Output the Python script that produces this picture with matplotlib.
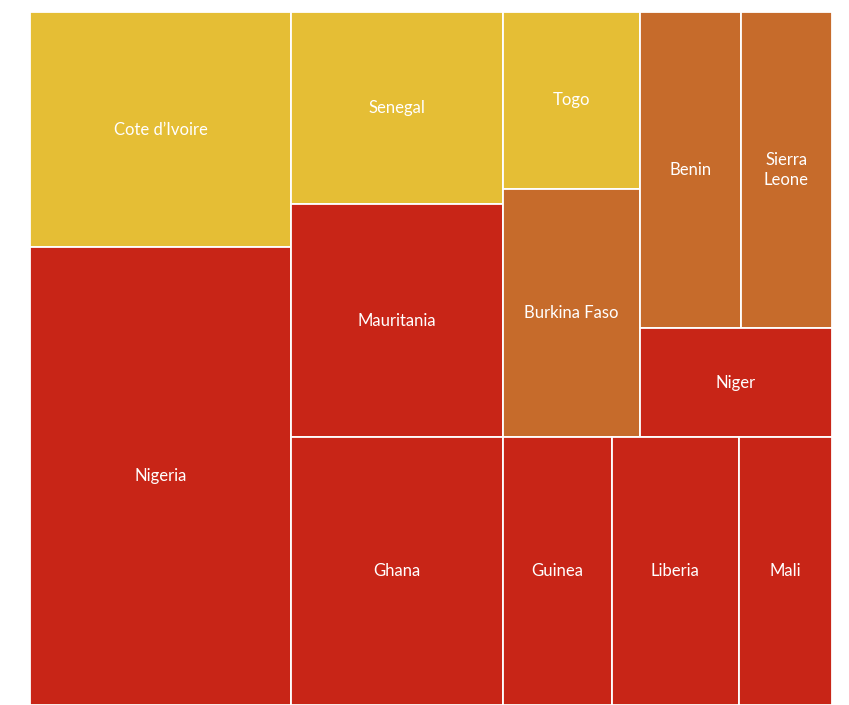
import textwrap

import matplotlib
matplotlib.use("Agg")
import matplotlib.pyplot as plt
from matplotlib.patches import Rectangle


# Share of the total (%) per country
countries = ["Nigeria", "Cote d\u2019Ivoire", "Ghana", "Mauritania", "Senegal",
             "Burkina Faso", "Liberia", "Benin", "Sierra Leone", "Guinea",
             "Mali", "Togo", "Niger"]
values = [21.51, 11.04, 10.24, 8.90, 7.34,
          6.11, 6.14, 5.73, 5.19, 5.23,
          4.48, 4.35, 3.77]
groups = ["red", "yellow", "red", "red", "yellow",
          "orange", "red", "orange", "orange", "red",
          "red", "yellow", "red"]

# nesting of the slice-and-dice tree
tree = [
    ["Cote d\u2019Ivoire", "Nigeria"],
    [
        [["Senegal", "Mauritania"], ["Togo", "Burkina Faso"],
         [["Benin", "Sierra Leone"], "Niger"]],
        ["Ghana", "Guinea", "Liberia", "Mali"],
    ],
]

palette = {"yellow": "#E5BE35", "red": "#C82517", "orange": "#C66B2B"}

value_of = dict(zip(countries, values))
group_of = dict(zip(countries, groups))


def total(node):
    if isinstance(node, str):
        return value_of[node]
    return sum(total(n) for n in node)


def layout(node, x, y, w, h, depth, out):
    # alternate: even depth -> columns, odd depth -> rows
    if isinstance(node, str):
        out.append((node, x, y, w, h))
        return
    s = total(node)
    pos = 0.0
    for child in node:
        f = total(child) / s
        if depth % 2 == 0:
            layout(child, x + pos * w, y, f * w, h, depth + 1, out)
        else:
            layout(child, x, y + pos * h, w, f * h, depth + 1, out)
        pos += f


def main():
    plt.rcParams['font.family'] = ['Lato', 'DejaVu Sans']

    fig = plt.figure(figsize=(8.49, 7.05), dpi=100)
    ax = fig.add_axes([30 / 849, 0, 802 / 849, 693 / 705])
    ax.set_xlim(0, 1)
    ax.set_ylim(1, 0)
    ax.axis("off")

    cells = []
    layout(tree, 0, 0, 1, 1, 0, cells)

    fig.canvas.draw()
    renderer = fig.canvas.get_renderer()
    px_w = ax.get_window_extent().width

    for name, x, y, w, h in cells:
        ax.add_patch(Rectangle((x, y), w, h, facecolor=palette[group_of[name]],
                               edgecolor="white", linewidth=1.3))
        t = ax.text(x + w / 2, y + h / 2, name, color="white", fontsize=12,
                    ha="center", va="center", linespacing=1.35)
        # wrap labels that do not fit the cell
        if t.get_window_extent(renderer).width > w * px_w - 12:
            t.set_text(textwrap.fill(name, 8))

    fig.savefig("out.png", dpi=100)


if __name__ == "__main__":
    main()
